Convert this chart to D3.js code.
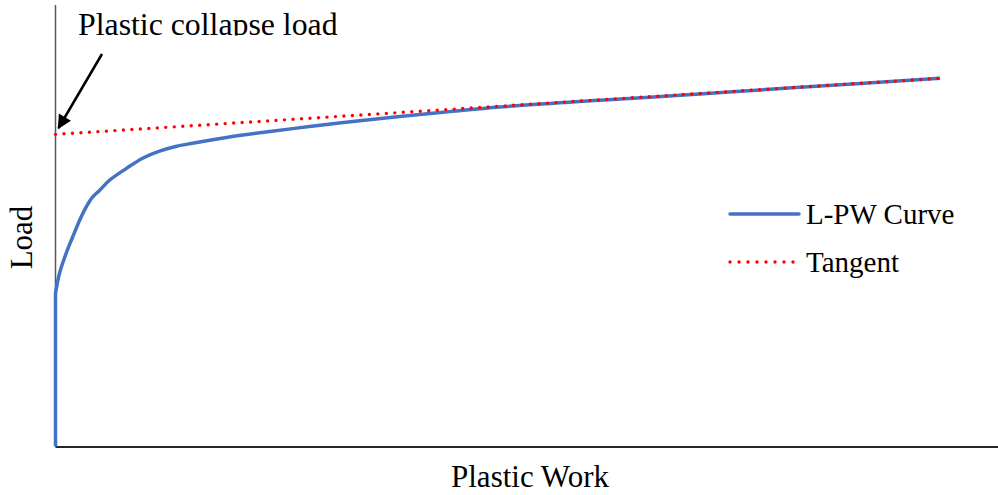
<!DOCTYPE html>
<html>
<head>
<meta charset="utf-8">
<script src="https://cdn.jsdelivr.net/npm/d3@7.9.0/dist/d3.min.js"></script>
<style>
  body { margin: 0; background: #fff; }
  svg { display: block; font-family: "Liberation Serif", "Times New Roman", serif; }
</style>
</head>
<body>
<svg id="chart" width="998" height="495"></svg>
<script>
// plastic work (arbitrary units) vs load (arbitrary units)
const curveWork = [0, 0, 4.2, 11.7, 18.1, 25.5, 32.9, 39.3, 46.7, 57.3, 75.4, 92.4, 110.4, 128.5, 145.4,
  181.5, 216.6, 251.6, 287.7, 322.7, 365.2, 418.3, 471.3, 577.5, 683.6, 789.8, 938.4];
const curveLoad = [0, 34.7, 39.2, 44.0, 47.4, 51.2, 54.4, 56.5, 58.0, 60.3, 63.0, 65.3, 66.9, 68.0, 68.7,
  70.0, 71.05, 72.0, 72.95, 73.8, 74.75, 75.85, 76.9, 78.4, 79.85, 81.35, 83.4];
const tangentWork = [0, 938.4];
const tangentLoad = [70.7, 83.4];
const seriesNames = ["L-PW Curve", "Tangent"];
const annotation = "Plastic collapse load";

const svg = d3.select("#chart");
const width = 998, height = 495;

const x = d3.scaleLinear().domain([0, 1000]).range([55.5, 998]);
const y = d3.scaleLinear().domain([0, 100]).range([446.5, 5]);

// axes (plain lines, no ticks)
svg.append("line")
  .attr("x1", x(0)).attr("x2", x(0))
  .attr("y1", y(0)).attr("y2", y(100))
  .attr("stroke", "#595959").attr("stroke-width", 1.5);

svg.append("line")
  .attr("x1", x(0)).attr("x2", x(1000))
  .attr("y1", y(0) + 0.5).attr("y2", y(0) + 0.5)
  .attr("stroke", "#262626").attr("stroke-width", 1.8);

const line = d3.line()
  .x(d => x(d[0]))
  .y(d => y(d[1]))
  .curve(d3.curveCatmullRom.alpha(0.5));

const curvePts = curveWork.map((w, i) => [w, curveLoad[i]]);
const tangentPts = tangentWork.map((w, i) => [w, tangentLoad[i]]);

// straight vertical rise first, then the smooth bend
const start = `M${x(curvePts[0][0])},${y(curvePts[0][1])}`;
const rest = line(curvePts.slice(1)).replace(/^M/, "L");

svg.append("path")
  .attr("d", start + rest)
  .attr("fill", "none")
  .attr("stroke", "#4472C4")
  .attr("stroke-width", 3.5)
  .attr("stroke-linejoin", "round");

svg.append("path")
  .datum(tangentPts)
  .attr("d", d3.line().x(d => x(d[0])).y(d => y(d[1])))
  .attr("fill", "none")
  .attr("stroke", "#FF0000")
  .attr("stroke-width", 3.4)
  .attr("stroke-linecap", "round")
  .attr("stroke-dasharray", "0 8.5");

// axis titles
svg.append("text")
  .attr("x", 530).attr("y", 487)
  .attr("text-anchor", "middle")
  .attr("font-size", 31)
  .text("Plastic Work");

svg.append("text")
  .attr("transform", "translate(32,237.5) rotate(-90)")
  .attr("text-anchor", "middle")
  .attr("font-size", 31)
  .text("Load");

// annotation, cut off at the top of the plot like the source
svg.append("clipPath").attr("id", "annClip")
  .append("rect").attr("x", 0).attr("y", 0).attr("width", width).attr("height", 35.5);

svg.append("text")
  .attr("x", 78).attr("y", 34.5)
  .attr("font-size", 31.8)
  .attr("clip-path", "url(#annClip)")
  .text(annotation);

svg.append("defs").append("marker")
  .attr("id", "arrow")
  .attr("viewBox", "0 0 10 10")
  .attr("refX", 9).attr("refY", 5)
  .attr("markerUnits", "userSpaceOnUse")
  .attr("markerWidth", 16).attr("markerHeight", 14)
  .attr("orient", "auto")
  .append("path")
  .attr("d", "M0,0 L10,5 L0,10 Z")
  .attr("fill", "#000");

svg.append("line")
  .attr("x1", 102).attr("y1", 54)
  .attr("x2", 58.5).attr("y2", 128)
  .attr("stroke", "#000").attr("stroke-width", 2.5)
  .attr("marker-end", "url(#arrow)");

// legend
const legend = svg.append("g");
legend.append("line")
  .attr("x1", 730).attr("x2", 799).attr("y1", 214).attr("y2", 214)
  .attr("stroke", "#4472C4").attr("stroke-width", 3.5).attr("stroke-linecap", "round");
legend.append("text")
  .attr("x", 806).attr("y", 224)
  .attr("font-size", 29)
  .text(seriesNames[0]);

legend.append("line")
  .attr("x1", 730).attr("x2", 794).attr("y1", 262).attr("y2", 262)
  .attr("stroke", "#FF0000").attr("stroke-width", 3.4)
  .attr("stroke-linecap", "round").attr("stroke-dasharray", "0 9");
legend.append("text")
  .attr("x", 806).attr("y", 272)
  .attr("font-size", 29)
  .text(seriesNames[1]);
</script>
</body>
</html>
